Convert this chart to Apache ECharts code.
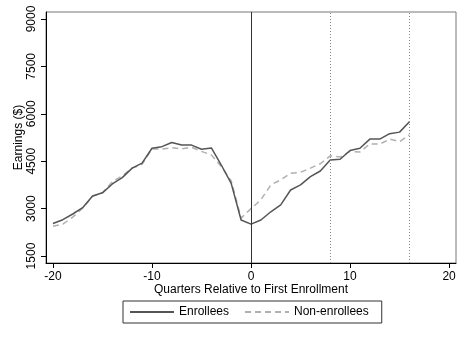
<!DOCTYPE html>
<html>
<head>
<meta charset="utf-8">
<script src="https://cdn.jsdelivr.net/npm/echarts@6/dist/echarts.min.js"></script>
<style>
  html, body { margin: 0; padding: 0; background: #fff; }
  #main { width: 468px; height: 340px; }
</style>
</head>
<body>
<div id="main"></div>
<script>
// quarters relative to first enrollment
var quarters = [-20, -19, -18, -17, -16, -15, -14, -13, -12, -11, -10, -9, -8, -7, -6, -5, -4, -3, -2, -1,
  0, 1, 2, 3, 4, 5, 6, 7, 8, 9, 10, 11, 12, 13, 14, 15, 16];
var enrollees = [2530, 2650, 2830, 3030, 3400, 3500, 3780, 3980, 4280, 4440, 4910, 4960, 5090, 5010, 5010, 4880, 4920, 4380, 3800, 2640,
  2510, 2640, 2900, 3120, 3590, 3750, 4010, 4190, 4540, 4560, 4840, 4910, 5200, 5200, 5370, 5420, 5750];
var nonEnrollees = [2440, 2510, 2730, 3010, 3390, 3500, 3850, 4040, 4280, 4400, 4890, 4880, 4930, 4890, 4940, 4810, 4700, 4330, 3880, 2700,
  3000, 3280, 3750, 3910, 4120, 4150, 4280, 4420, 4670, 4630, 4810, 4790, 5050, 5040, 5200, 5120, 5330];
var xTicks = [-20, -10, 0, 10, 20];
var yTicks = [1500, 3000, 4500, 6000, 7500, 9000];
var enrollLine = [0];
var dottedLines = [8, 16];

function pairs(xs, ys) {
  return xs.map(function (x, i) { return [x, ys[i]]; });
}

var font = "'Liberation Sans', Arial, sans-serif";
var fs = 12;
var chart = echarts.init(document.getElementById('main'));
chart.setOption({
  backgroundColor: '#fff',
  animation: false,
  textStyle: { fontFamily: font, color: '#000' },
  grid: {
    left: 46, right: 12, top: 12, bottom: 77,
    show: true, borderColor: '#777', borderWidth: 1
  },
  xAxis: {
    type: 'value',
    min: -20.7, max: 20.7,
    name: 'Quarters Relative to First Enrollment',
    nameLocation: 'middle',
    nameGap: 21,
    nameMoveOverlap: false,
    nameTextStyle: { fontSize: fs, color: '#000', fontFamily: font },
    axisLine: { show: true, onZero: false, lineStyle: { color: '#000', width: 1 } },
    axisTick: { show: true, length: 5, customValues: xTicks, lineStyle: { color: '#000' } },
    axisLabel: { customValues: xTicks, fontSize: fs, color: '#000', margin: 8, fontFamily: font,
      formatter: function (v) { return String(v); } },
    splitLine: { show: false }
  },
  yAxis: {
    type: 'value',
    min: 1280, max: 9220,
    name: 'Earnings ($)',
    nameLocation: 'middle',
    nameGap: 21,
    nameMoveOverlap: false,
    nameTextStyle: { fontSize: fs, color: '#000', fontFamily: font },
    axisLine: { show: true, onZero: false, lineStyle: { color: '#000', width: 1 } },
    axisTick: { show: true, length: 5, customValues: yTicks, lineStyle: { color: '#000' } },
    axisLabel: { customValues: yTicks, rotate: 90, fontSize: fs, color: '#000', margin: 8, fontFamily: font,
      formatter: function (v) { return String(v); } },
    splitLine: { show: false }
  },
  legend: {
    orient: 'horizontal',
    left: 123, top: 301,
    padding: [5, 13, 5, 6],
    borderColor: '#333', borderWidth: 1,
    itemWidth: 44, itemHeight: 10, itemGap: 15,
    itemStyle: { opacity: 0 },
    textStyle: { fontSize: fs, color: '#000', fontFamily: font },
    data: ['Enrollees', 'Non-enrollees']
  },
  series: [
    {
      name: 'Enrollees',
      type: 'line',
      symbol: 'none',
      data: pairs(quarters, enrollees),
      lineStyle: { color: '#555', width: 1.5 },
      itemStyle: { color: '#555' },
      z: 3,
      markLine: {
        silent: true,
        symbol: 'none',
        label: { show: false },
        lineStyle: { color: '#333', width: 1, type: 'solid' },
        data: enrollLine.map(function (v) { return { xAxis: v }; })
      }
    },
    {
      name: 'Non-enrollees',
      type: 'line',
      symbol: 'none',
      data: pairs(quarters, nonEnrollees),
      lineStyle: { color: '#b0b0b0', width: 1.5, type: [6, 4] },
      itemStyle: { color: '#b0b0b0' },
      z: 2,
      markLine: {
        silent: true,
        symbol: 'none',
        label: { show: false },
        lineStyle: { color: '#888', width: 1, type: [1, 2] },
        data: dottedLines.map(function (v) { return { xAxis: v }; })
      }
    }
  ]
});
</script>
</body>
</html>
